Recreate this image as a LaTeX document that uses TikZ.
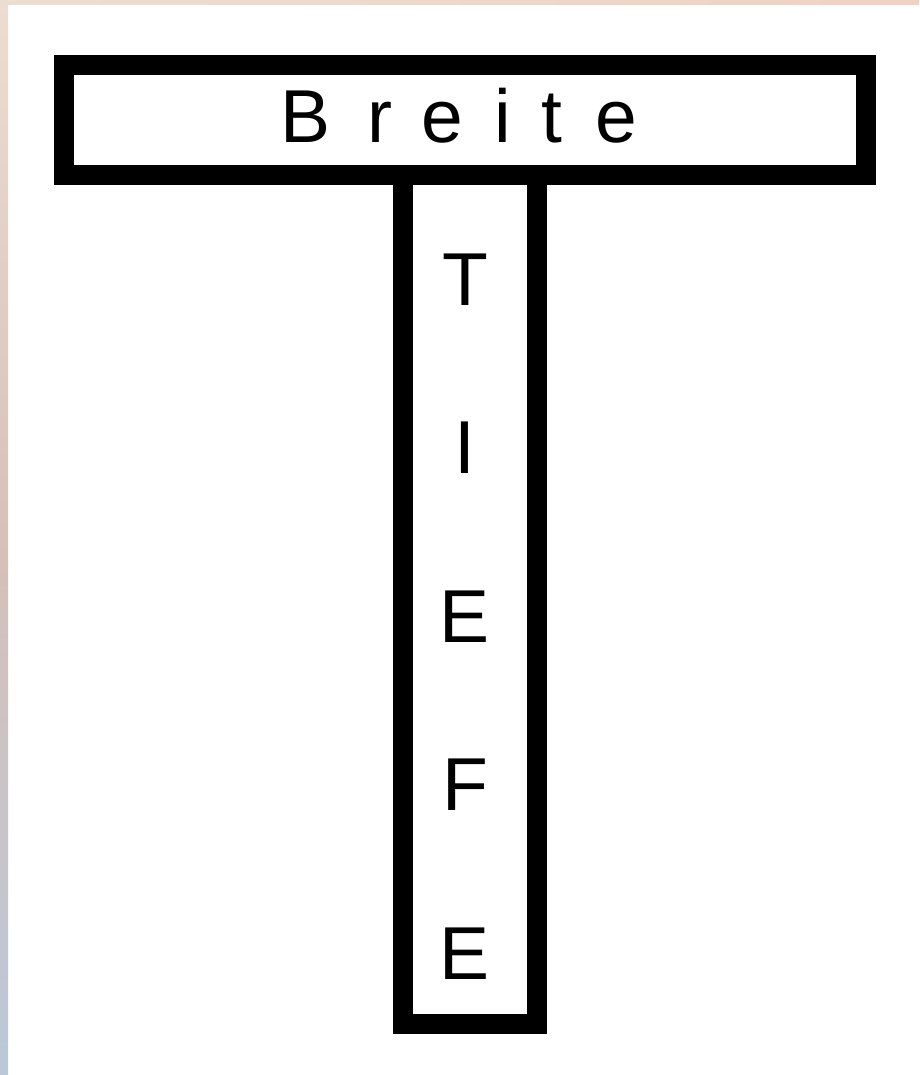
\documentclass[tikz,border=0pt]{standalone}
\usepackage{fontspec}
\setmainfont{Liberation Sans}
\definecolor{randoben}{HTML}{ECDDD2}
\definecolor{randrechts}{HTML}{EED2C4}
\definecolor{randmitte}{HTML}{D5C0BA}
\definecolor{randunten}{HTML}{BCC8D8}

\begin{document}
\begin{tikzpicture}[
  x=1pt, y=1pt,
  rahmen/.style={draw=black, line width=20pt, line join=miter},
  buchst/.style={font=\fontsize{75}{90}\selectfont, anchor=base, inner sep=0pt}
]
\useasboundingbox (0,0) rectangle (919,-1075);
\fill[white] (0,0) rectangle (919,-1075);
% Rand oben und links
\shade[left color=randoben, right color=randrechts] (0,0) rectangle (919,-5);
\shade[top color=randoben, bottom color=randmitte] (0,0) rectangle (8,-560);
\shade[top color=randmitte, bottom color=randunten] (0,-560) rectangle (8,-1075);
% Balken und Stiel
\draw[rahmen] (64,-65.5) rectangle (866,-175);
\draw[rahmen] (402.5,-185) -- (402.5,-1024) -- (536.5,-1024) -- (536.5,-185);
% Beschriftung
\foreach \c/\x [count=\i] in {B/306, r/380, e/442, i/503, t/552, e/616}
  \node[buchst] (breite\i) at (\x,-143) {\c};
\foreach \c/\y [count=\i] in {T/305, I/473, E/642, F/810, E/979}
  \node[buchst] (tiefe\i) at (465,-\y) {\c};
\end{tikzpicture}
\end{document}
